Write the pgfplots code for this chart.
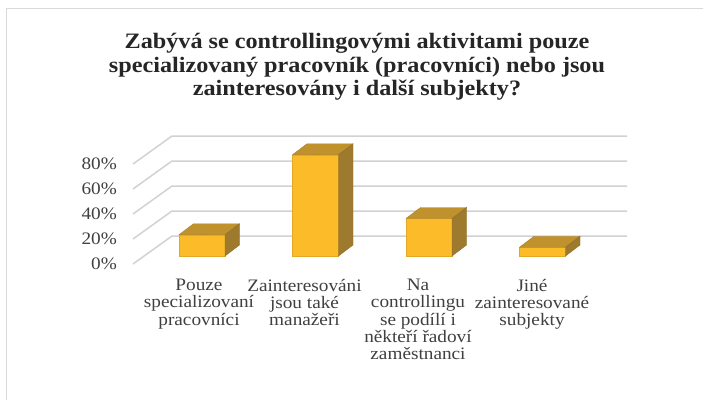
\documentclass[border=0pt]{standalone}
\usepackage{fontspec}
\setmainfont{Liberation Serif}[FakeStretch=1.1]
\usepackage{pgfplots}
\pgfplotsset{compat=1.18}
\usepackage{pgfplotstable}
\definecolor{barfront}{RGB}{252,188,42}
\definecolor{bartop}{RGB}{192,146,46}
\definecolor{barside}{RGB}{158,122,46}
\definecolor{gridc}{RGB}{210,210,210}
\definecolor{bordc}{RGB}{217,217,217}
\definecolor{txt}{RGB}{64,64,64}
\definecolor{ttl}{RGB}{38,38,38}

\pgfplotstableread{
idx v
0 17
1 81
2 30
3 7
}\datatable

\begin{document}
\begin{tikzpicture}
\useasboundingbox (0,0) rectangle (703pt,400pt);
\fill[white] (0,0) rectangle (703pt,400pt);
\draw[bordc, line width=1pt] (6pt,0pt) -- (6pt,391pt) -- (703pt,391pt);
% title
\node[font=\fontsize{22}{23.5}\selectfont\bfseries, text=ttl, align=center, anchor=north] at (357pt,370pt)
  {Zabývá se controllingovými aktivitami pouze\\specializovaný pracovník (pracovníci) nebo jsou\\zainteresovány i další subjekty?};
% walls / gridlines
\foreach \g in {0,20,40,60,80}{
  \draw[gridc, line width=1.5pt] (133pt,{136pt+1.25pt*\g}) -- (172pt,{164pt+1.25pt*\g}) -- (627pt,{164pt+1.25pt*\g});
  \node[anchor=east, font=\fontsize{17.5}{17}\selectfont, text=txt, inner sep=0pt] at (117pt,{136pt+1.25pt*\g}) {\g\%};
}
% category labels
\begin{scope}[every node/.style={anchor=north, align=center, font=\fontsize{17.5}{17.2}\selectfont, text=txt, inner sep=0pt}]
\node at (199pt,121pt) {Pouze\\specializovaní\\pracovníci};
\node at (304.5pt,121pt) {Zainteresováni\\jsou také\\manažeři};
\node at (418pt,121pt) {Na\\controllingu\\se podílí i\\někteří řadoví\\zaměstnanci};
\node at (532pt,121pt) {Jiné\\zainteresované\\subjekty};
\end{scope}
\begin{axis}[
  at={(202pt,144pt)}, anchor=origin,
  x=113.5pt, y=1.25pt,
  xmin=-1, xmax=4, ymin=-20, ymax=110,
  hide axis, clip=false,
]
\addplot[ybar, bar width=46pt, fill=barfront, draw=barfront!90!black, line width=0.4pt] table[x=idx,y=v]{\datatable};
\addplot[scatter, only marks, mark=*, mark size=0pt, mark options={draw=none,fill=none},
  visualization depends on={\thisrow{v} \as \val},
  scatter/@pre marker code/.code={
    \fill[bartop, draw=bartop!90!black, line width=0.4pt] (-23pt,0pt) -- (23pt,0pt) -- (37.5pt,11pt) -- (-8.5pt,11pt) -- cycle;
    \fill[barside, draw=barside!90!black, line width=0.4pt] (23pt,0pt) -- (37.5pt,11pt) -- (37.5pt,{11pt-1.25pt*\val}) -- (23pt,{-1.25pt*\val}) -- cycle;
  },
  scatter/@post marker code/.code={},
] table[x=idx,y=v]{\datatable};
\end{axis}
\end{tikzpicture}
\end{document}
